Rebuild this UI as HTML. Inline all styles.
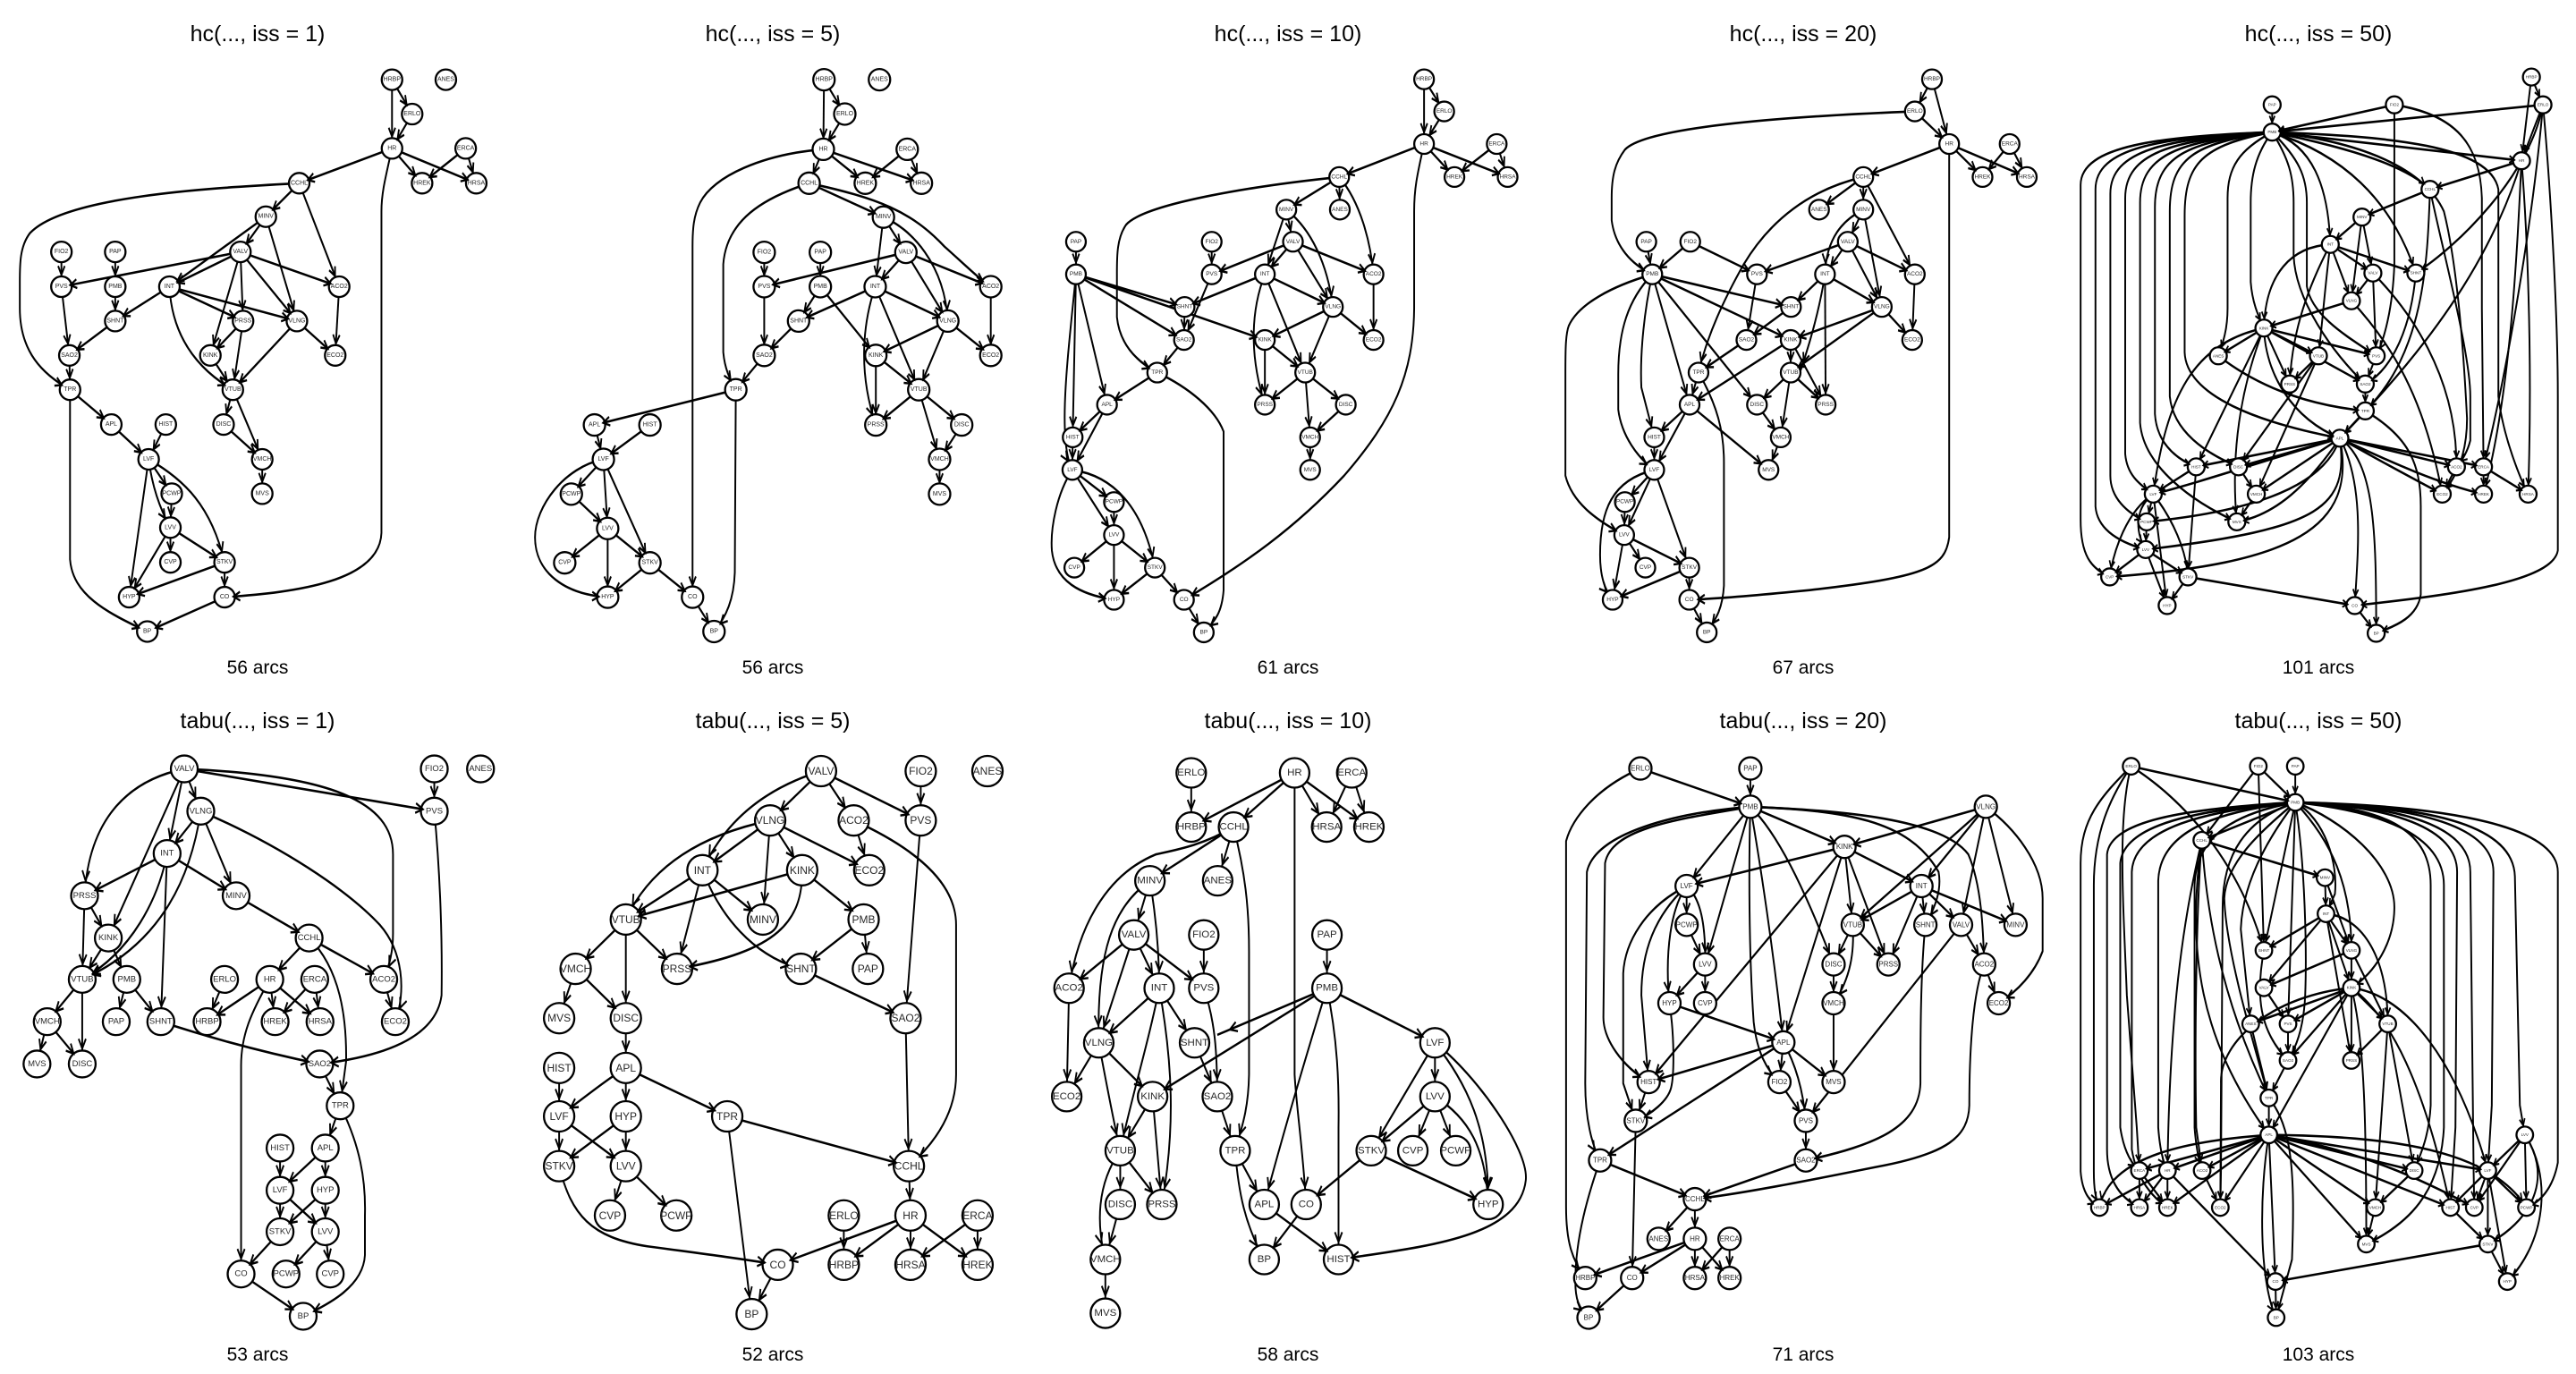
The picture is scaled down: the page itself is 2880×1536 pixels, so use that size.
<!DOCTYPE html>
<html><head><meta charset="utf-8">
<style>
html,body{margin:0;padding:0;background:#fff}
svg{display:block}
.t{font-family:"Liberation Sans",sans-serif;text-anchor:middle;fill:#000}
.ln{fill:none;stroke:#000;stroke-width:5.3;stroke-linejoin:round}
.ar{fill:none;stroke:none}
.a1{marker-end:url(#m1)}.a2{marker-end:url(#m2)}.a3{marker-end:url(#m3)}.a4{marker-end:url(#m4)}.a5{marker-end:url(#m5)}
.n circle{fill:#fff;stroke:#000;stroke-width:2.3}
.n text{font-family:"Liberation Sans",sans-serif;text-anchor:middle;dominant-baseline:central;fill:#2a2a2a}
.f7 text{font-size:7px}.f65 text{font-size:6.5px}.f45 text{font-size:4.6px}.f95 text{font-size:9.5px}.f12 text{font-size:12px}.f115 text{font-size:11.5px}.f8 text{font-size:8px}
</style></head><body>
<svg width="2880" height="1536" viewBox="0 0 2880 1536" xmlns="http://www.w3.org/2000/svg">
<defs>
<marker id="m1" markerUnits="userSpaceOnUse" orient="auto" refX="27" refY="0" markerWidth="1" markerHeight="1" overflow="visible"><path d="M-20 -10L0 0L-20 10" fill="none" stroke="#000" stroke-width="5"/></marker>
<marker id="m2" markerUnits="userSpaceOnUse" orient="auto" refX="35" refY="0" markerWidth="1" markerHeight="1" overflow="visible"><path d="M-22 -11L0 0L-22 11" fill="none" stroke="#000" stroke-width="5"/></marker>
<marker id="m3" markerUnits="userSpaceOnUse" orient="auto" refX="40" refY="0" markerWidth="1" markerHeight="1" overflow="visible"><path d="M-22 -11L0 0L-22 11" fill="none" stroke="#000" stroke-width="5"/></marker>
<marker id="m4" markerUnits="userSpaceOnUse" orient="auto" refX="29.5" refY="0" markerWidth="1" markerHeight="1" overflow="visible"><path d="M-20 -10L0 0L-20 10" fill="none" stroke="#000" stroke-width="5"/></marker>
<marker id="m5" markerUnits="userSpaceOnUse" orient="auto" refX="22" refY="0" markerWidth="1" markerHeight="1" overflow="visible"><path d="M-15 -8L0 0L-15 8" fill="none" stroke="#000" stroke-width="4.5"/></marker>

<g id="E1">
<path d="M1187 181L1187 337"/><path d="M1187 181L1248 259"/><path d="M1248 259L1187 337"/>
<path d="M1187 337L906 416"/><path d="M1187 337L1278 416"/><path d="M1187 337L1442 416"/>
<path d="M1410 337L1278 416"/><path d="M1410 337L1442 416"/>
<path d="M1187 337C1165 410 1155 440 1155 480L1155 1210C1150 1320 900 1345 680 1356"/>
<path d="M906 416C700 425 200 440 90 530C60 560 60 600 60 640L60 700C60 800 130 850 212 885"/>
<path d="M906 416L805 492"/><path d="M906 416L1027 651"/>
<path d="M805 492L728 572"/><path d="M805 492L513 651"/><path d="M805 492L899 729"/>
<path d="M728 572L513 651"/><path d="M728 572L186 651"/><path d="M728 572L736 729"/><path d="M728 572L637 807"/><path d="M728 572L899 729"/><path d="M728 572L1027 651"/>
<path d="M186 572L186 651"/><path d="M349 572L349 651"/><path d="M349 651L349 729"/>
<path d="M513 651L349 729"/><path d="M513 651L736 729"/><path d="M513 651L899 729"/>
<path d="M513 651C520 750 580 830 705 885"/>
<path d="M186 651L210 807"/><path d="M349 729L210 807"/><path d="M210 807L212 885"/>
<path d="M736 729L637 807"/><path d="M736 729L705 885"/><path d="M637 807L705 885"/>
<path d="M899 729L705 885"/><path d="M899 729L1015 807"/><path d="M1027 651L1015 807"/>
<path d="M705 885L677 964"/><path d="M705 885L794 1043"/><path d="M677 964L794 1043"/><path d="M794 1043L794 1121"/>
<path d="M212 885L337 964"/>
<path d="M212 885L212 1270C220 1350 320 1390 446 1434"/>
<path d="M337 964L450 1043"/><path d="M502 964L450 1043"/>
<path d="M450 1043L520 1121"/><path d="M450 1043C460 1100 480 1150 516 1198"/><path d="M450 1043L391 1356"/>
<path d="M450 1043C560 1090 640 1150 680 1277"/>
<path d="M520 1121L516 1198"/><path d="M516 1198L516 1277"/><path d="M516 1198L391 1356"/><path d="M516 1198L680 1277"/>
<path d="M680 1277L391 1356"/><path d="M680 1277L680 1356"/><path d="M680 1356L446 1434"/>
</g>

<g id="E2">
<path d="M558 186C400 210 270 290 256 474"/>
<path d="M558 186L328 570"/><path d="M558 186L506 378"/><path d="M558 186L608 282"/>
<path d="M558 186L1315 282"/>
<path d="M558 186C1000 200 1190 260 1190 380L1190 560C1190 600 1180 630 1162 664"/>
<path d="M608 282L506 378"/><path d="M608 282L715 474"/>
<path d="M608 282C580 420 500 580 249 664"/>
<path d="M608 282C850 360 1050 460 1150 540C1220 600 1230 690 1197 760"/>
<path d="M506 378L256 474"/><path d="M506 378L715 474"/>
<path d="M506 378C480 480 400 600 249 664"/>
<path d="M506 378L487 760"/>
<path d="M715 474L936 570"/>
<path d="M256 474L328 570"/><path d="M256 474L249 664"/>
<path d="M328 570L249 664"/><path d="M328 570L384 664"/>
<path d="M249 664L143 760"/><path d="M249 664L249 856"/>
<path d="M143 760L112 856"/><path d="M143 760L249 856"/>
<path d="M384 664L352 760"/><path d="M384 664L487 760"/>
<path d="M487 760C650 800 800 830 968 856"/>
<path d="M936 570L817 664"/><path d="M936 570L1162 664"/>
<path d="M936 570C1030 640 1050 750 1048 850L1030 951"/>
<path d="M680 664L627 760"/><path d="M817 664L627 760"/><path d="M817 664L833 760"/><path d="M817 664L969 760"/>
<path d="M817 664C760 740 730 790 730 860L730 1333"/>
<path d="M953 664L833 760"/><path d="M953 664L969 760"/>
<path d="M1162 664L1197 760"/>
<path d="M1315 186L1315 282"/>
<path d="M1315 282C1330 400 1340 550 1337 700C1320 800 1150 840 968 856"/>
<path d="M968 856L1030 951"/>
<path d="M1030 951L985 1047"/>
<path d="M1030 951C1090 1040 1108 1120 1105 1200L1105 1290C1100 1360 1000 1400 918 1429"/>
<path d="M848 1047L848 1143"/><path d="M985 1047L848 1143"/><path d="M985 1047L985 1143"/>
<path d="M848 1143L848 1237"/><path d="M848 1143L985 1237"/><path d="M985 1143L848 1237"/><path d="M985 1143L985 1237"/>
<path d="M848 1237L730 1333"/><path d="M985 1237L866 1333"/><path d="M985 1237L1000 1333"/>
<path d="M730 1333L918 1429"/>
</g>

<g id="E3">
<path d="M935 181L933 339"/><path d="M935 181L998 259"/><path d="M998 259L933 339"/>
<path d="M933 339L890 416"/><path d="M933 339L1060 416"/><path d="M933 339L1230 416"/>
<path d="M1187 339L1060 416"/><path d="M1187 339L1230 416"/>
<path d="M933 339C750 350 600 400 560 460C540 490 537 520 537 560L537 1356"/>
<path d="M890 416C750 450 640 500 630 600L630 800C635 840 650 860 668 885"/>
<path d="M890 416L1115 493"/>
<path d="M890 416C1100 450 1200 480 1300 560C1360 600 1400 630 1440 651"/>
<path d="M1115 493L1183 573"/><path d="M1115 493L1090 651"/>
<path d="M1115 493C1200 520 1300 600 1310 729"/>
<path d="M1183 573L1090 651"/><path d="M1183 573L754 651"/><path d="M1183 573L1310 729"/><path d="M1183 573L1440 651"/>
<path d="M754 573L754 651"/><path d="M924 573L924 651"/>
<path d="M924 651L858 729"/><path d="M924 651L1092 807"/>
<path d="M1090 651L858 729"/><path d="M1090 651L1310 729"/>
<path d="M1090 651C1050 740 1040 850 1092 965"/>
<path d="M1090 651L1222 885"/>
<path d="M754 651L754 807"/><path d="M858 729L754 807"/><path d="M754 807L668 885"/>
<path d="M1310 729L1092 807"/><path d="M1310 729L1222 885"/><path d="M1310 729L1440 807"/>
<path d="M1440 651L1440 807"/>
<path d="M1092 807L1222 885"/><path d="M1092 807L1092 965"/>
<path d="M1222 885L1092 965"/><path d="M1222 885L1352 965"/><path d="M1222 885L1285 1043"/>
<path d="M1352 965L1285 1043"/><path d="M1285 1043L1285 1122"/>
<path d="M668 885L240 965"/>
<path d="M668 885L665 1300C662 1360 640 1400 602 1434"/>
<path d="M240 965L267 1043"/><path d="M408 965L267 1043"/>
<path d="M267 1043L170 1122"/><path d="M267 1043L280 1200"/><path d="M267 1043L408 1278"/>
<path d="M267 1043C150 1060 60 1150 60 1220C60 1300 150 1350 280 1356"/>
<path d="M170 1122L280 1200"/>
<path d="M280 1200L150 1278"/><path d="M280 1200L280 1356"/><path d="M280 1200L408 1278"/>
<path d="M408 1278L280 1356"/><path d="M408 1278L537 1356"/><path d="M537 1356L602 1434"/>
</g>

<g id="E4">
<path d="M926 191L772 303"/><path d="M926 191L1025 303"/><path d="M926 191L1228 303"/>
<path d="M926 191C800 220 650 280 567 416"/>
<path d="M772 303L567 416"/><path d="M772 303L869 416"/><path d="M772 303L750 528"/><path d="M772 303L1072 416"/>
<path d="M772 303C600 330 420 390 335 528"/>
<path d="M567 416L335 528"/><path d="M567 416L750 528"/><path d="M567 416L490 640"/>
<path d="M567 416C620 520 720 610 865 640"/>
<path d="M869 416L335 528"/><path d="M869 416L1055 528"/>
<path d="M869 416C870 530 800 600 490 640"/>
<path d="M1025 303L1072 416"/>
<path d="M1025 303C1250 380 1335 460 1335 540L1335 880C1335 960 1280 1030 1192 1088"/>
<path d="M1228 191L1228 303"/><path d="M1228 303L1182 752"/>
<path d="M335 528L183 640"/><path d="M335 528L490 640"/><path d="M335 528L335 752"/>
<path d="M183 640L133 752"/><path d="M183 640L335 752"/>
<path d="M1055 528L865 640"/><path d="M1055 528L1068 640"/>
<path d="M865 640L1182 752"/><path d="M1182 752L1192 1088"/>
<path d="M335 752L335 865"/>
<path d="M133 865L133 975"/><path d="M335 865C280 890 230 920 133 975"/><path d="M335 865L335 975"/><path d="M335 865L642 975"/>
<path d="M133 975L133 1088"/><path d="M133 975L335 1088"/><path d="M335 975L133 1088"/><path d="M335 975L335 1088"/>
<path d="M335 1088L287 1200"/><path d="M335 1088L488 1200"/>
<path d="M133 1088C170 1200 230 1250 400 1270C600 1290 700 1300 795 1312"/>
<path d="M642 975L1192 1088"/><path d="M642 975L716 1424"/>
<path d="M1192 1088L1197 1200"/>
<path d="M995 1200L995 1312"/>
<path d="M1197 1200L795 1312"/><path d="M1197 1200L995 1312"/><path d="M1197 1200L1197 1312"/><path d="M1197 1200L1400 1312"/>
<path d="M1400 1200L1197 1312"/><path d="M1400 1200L1400 1312"/>
<path d="M795 1312L716 1424"/>
</g>

<g id="E5">
<path d="M1192 180L1192 327"/><path d="M1192 180L1253 253"/><path d="M1253 253L1192 327"/>
<path d="M1192 327L935 402"/><path d="M1192 327L1284 402"/><path d="M1192 327L1445 402"/>
<path d="M1412 327L1284 402"/><path d="M1412 327L1445 402"/>
<path d="M1192 327C1170 400 1162 430 1162 480L1162 700C1160 850 1100 950 950 1080C800 1200 650 1280 465 1362"/>
<path d="M935 402C700 420 350 460 290 510C262 540 262 580 262 620L262 720C270 780 320 820 384 846"/>
<path d="M935 402L775 476"/><path d="M935 402L937 476"/>
<path d="M935 402C1000 460 1030 550 1039 623"/>
<path d="M775 476L795 549"/><path d="M775 476L710 623"/>
<path d="M775 476C850 520 900 600 916 697"/>
<path d="M795 549L710 623"/><path d="M795 549L549 623"/><path d="M795 549L916 697"/><path d="M795 549L1039 623"/>
<path d="M138 549L138 623"/><path d="M549 549L549 623"/>
<path d="M138 623L467 697"/><path d="M138 623L465 772"/><path d="M138 623L710 772"/>
<path d="M138 623L232 919"/><path d="M138 623L128 993"/>
<path d="M138 623C115 800 80 1000 127 1067"/>
<path d="M710 623L467 697"/><path d="M710 623L916 697"/>
<path d="M710 623C670 700 660 800 710 919"/>
<path d="M710 623L832 846"/>
<path d="M549 623L465 772"/><path d="M467 697L465 772"/><path d="M465 772L384 846"/>
<path d="M916 697L710 772"/><path d="M916 697L832 846"/><path d="M916 697L1039 772"/>
<path d="M1039 623L1039 772"/>
<path d="M710 772L710 919"/><path d="M710 772L832 846"/>
<path d="M832 846L710 919"/><path d="M832 846L847 993"/><path d="M832 846L955 919"/>
<path d="M955 919L847 993"/><path d="M847 993L847 1067"/>
<path d="M384 846L232 919"/>
<path d="M384 846C480 880 560 930 585 980L585 1340C580 1390 560 1410 525 1436"/>
<path d="M232 919L128 993"/><path d="M232 919L127 1067"/><path d="M128 993L127 1067"/>
<path d="M127 1067L253 1140"/><path d="M127 1067L253 1215"/>
<path d="M127 1067C250 1080 340 1150 377 1289"/>
<path d="M127 1067C80 1120 60 1200 65 1250C75 1320 150 1350 253 1362"/>
<path d="M253 1140L253 1215"/>
<path d="M253 1215L133 1289"/><path d="M253 1215L253 1362"/><path d="M253 1215L377 1289"/>
<path d="M377 1289L253 1362"/><path d="M377 1289L465 1362"/><path d="M465 1362L525 1436"/>
</g>

<g id="E6">
<path d="M487 195L487 318"/>
<path d="M800 195L487 318"/><path d="M800 195L615 318"/><path d="M800 195L897 318"/><path d="M800 195L1025 318"/>
<path d="M800 195L800 880C805 950 825 1050 835 1175"/>
<path d="M973 195L897 318"/><path d="M973 195L1025 318"/>
<path d="M615 318L362 440"/><path d="M615 318L567 440"/>
<path d="M615 318C520 360 440 370 380 380C250 420 150 520 117 684"/>
<path d="M615 318C650 420 662 500 662 600L662 880C660 960 640 1000 620 1053"/>
<path d="M362 440L313 563"/>
<path d="M362 440C380 520 390 600 390 684"/>
<path d="M362 440C250 500 200 600 207 808"/>
<path d="M313 563L117 684"/><path d="M313 563L390 684"/><path d="M313 563L525 684"/><path d="M313 563L207 808"/>
<path d="M525 563L525 684"/><path d="M898 563L898 684"/>
<path d="M117 684L110 930"/>
<path d="M390 684L207 808"/><path d="M390 684L497 808"/>
<path d="M390 684C360 800 300 950 272 1053"/>
<path d="M390 684C430 850 440 1000 398 1175"/>
<path d="M525 684C560 760 565 830 566 930"/>
<path d="M898 684L566 790"/>
<path d="M898 684L370 930"/>
<path d="M898 684C850 800 770 1000 708 1175"/>
<path d="M898 684C930 800 935 900 933 1000L933 1300"/>
<path d="M898 684L1225 808"/>
<path d="M207 808L110 930"/><path d="M207 808L370 930"/>
<path d="M207 808C230 900 250 980 272 1053"/>
<path d="M497 808L566 930"/>
<path d="M370 930L272 1053"/><path d="M370 930L398 1175"/>
<path d="M566 930L620 1053"/>
<path d="M272 1053L272 1175"/><path d="M272 1053L398 1175"/>
<path d="M272 1053C200 1130 200 1220 227 1300"/>
<path d="M272 1175L227 1300"/><path d="M227 1300L227 1422"/>
<path d="M620 1053L708 1175"/>
<path d="M620 1053C630 1150 650 1220 708 1300"/>
<path d="M708 1175L933 1300"/>
<path d="M835 1175L708 1300"/>
<path d="M1032 1053L835 1175"/><path d="M1032 1053L1386 1175"/>
<path d="M1225 808L1225 930"/><path d="M1225 808L1032 1053"/>
<path d="M1225 808C1320 900 1390 1000 1386 1175"/>
<path d="M1225 930C1330 980 1380 1050 1386 1175"/>
<path d="M1225 808C1350 880 1510 1050 1500 1120C1480 1250 1200 1270 933 1300"/>
<path d="M1225 930L1032 1053"/><path d="M1225 930L1158 1053"/><path d="M1225 930L1288 1053"/>
</g>

<g id="E7">
<path d="M1170 180L1118 253"/><path d="M1170 180L1222 327"/><path d="M1118 253L1222 327"/>
<path d="M1118 253C700 265 300 290 240 340C210 370 200 400 200 450L200 500C210 560 260 600 323 623"/>
<path d="M1222 327L962 402"/><path d="M1222 327L1323 402"/><path d="M1222 327L1457 402"/>
<path d="M1405 327L1323 402"/><path d="M1405 327L1457 402"/>
<path d="M1222 327L1222 1220C1210 1290 1150 1310 800 1340C600 1355 500 1360 435 1362"/>
<path d="M962 402L828 476"/><path d="M962 402L962 476"/><path d="M962 402L1118 623"/>
<path d="M962 402C800 430 680 500 600 600C540 680 490 760 463 846"/>
<path d="M962 476L915 549"/>
<path d="M962 476C900 500 850 540 846 623"/>
<path d="M962 476L1018 697"/>
<path d="M915 549L846 623"/><path d="M915 549L640 623"/><path d="M915 549L1018 697"/><path d="M915 549L1118 623"/>
<path d="M305 549L323 623"/><path d="M438 549L323 623"/><path d="M438 549L640 623"/>
<path d="M323 623L743 697"/><path d="M323 623L742 772"/><path d="M323 623L640 919"/><path d="M323 623L436 919"/>
<path d="M323 623C300 700 285 800 290 880L329 993"/>
<path d="M323 623C250 680 220 750 220 850L220 930C230 990 280 1040 329 1067"/>
<path d="M323 623C200 650 100 690 70 740C60 760 60 800 60 850L60 1080C80 1140 150 1180 238 1215"/>
<path d="M640 623L608 772"/>
<path d="M846 623L743 697"/><path d="M846 623L1018 697"/><path d="M846 623L848 919"/>
<path d="M846 623C830 700 800 780 770 846"/>
<path d="M743 697L608 772"/><path d="M608 772L463 846"/>
<path d="M1018 697L742 772"/><path d="M1018 697L742 846"/><path d="M1018 697L1110 772"/>
<path d="M1118 623L1110 772"/>
<path d="M742 772L436 919"/><path d="M742 772L742 846"/><path d="M742 772L848 919"/>
<path d="M742 846L640 919"/><path d="M742 846L712 993"/><path d="M742 846L848 919"/>
<path d="M640 919L712 993"/><path d="M712 993L675 1067"/>
<path d="M463 846L436 919"/>
<path d="M463 846C520 920 540 980 540 1050L540 1330C535 1390 510 1410 488 1436"/>
<path d="M436 919L329 993"/><path d="M436 919L329 1067"/><path d="M436 919L675 1067"/>
<path d="M329 993L329 1067"/>
<path d="M329 1067L240 1140"/><path d="M329 1067L238 1215"/><path d="M329 1067L435 1289"/>
<path d="M329 1067C200 1090 165 1160 165 1260C165 1310 180 1340 203 1362"/>
<path d="M240 1140L238 1215"/>
<path d="M238 1215L203 1362"/><path d="M238 1215L302 1289"/><path d="M238 1215L435 1289"/>
<path d="M435 1289L203 1362"/><path d="M435 1289L435 1362"/><path d="M435 1362L488 1436"/>
</g>

<g id="E8">
<path d="M287 185L620 272"/>
<path d="M287 185C150 230 80 300 62 350L62 1180C62 1260 80 1300 120 1342"/>
<path d="M620 185L620 272"/>
<path d="M620 272L905 363"/><path d="M620 272L427 452"/><path d="M620 272L483 630"/>
<path d="M620 272C650 400 690 600 720 807"/>
<path d="M620 272C615 400 615 600 630 760C640 830 670 870 708 897"/>
<path d="M620 272C700 330 780 450 872 630"/>
<path d="M620 272C400 300 200 320 180 400L175 750C175 800 230 860 312 897"/>
<path d="M620 272C400 285 150 330 125 420L120 900C120 980 140 1040 165 1075"/>
<path d="M620 272C900 280 1100 300 1190 420C1200 460 1180 500 1150 540"/>
<path d="M620 272C900 280 1200 300 1280 380C1320 450 1325 550 1328 630"/>
<path d="M1333 272L905 363"/><path d="M1333 272L1138 452"/><path d="M1333 272L930 540"/><path d="M1333 272L1258 540"/><path d="M1333 272L1423 540"/>
<path d="M1333 272C1420 320 1505 400 1505 480L1505 600C1480 650 1430 690 1372 718"/>
<path d="M905 363L427 452"/><path d="M905 363L1138 452"/><path d="M905 363L930 540"/><path d="M905 363L1038 630"/><path d="M905 363L720 807"/><path d="M905 363L312 897"/>
<path d="M427 452L427 540"/>
<path d="M427 452C470 480 485 540 483 630"/>
<path d="M427 452C380 500 360 600 375 718"/>
<path d="M427 452C330 520 290 600 290 700L312 897"/>
<path d="M427 452C300 500 240 580 235 650L235 900L273 985"/>
<path d="M1138 452L930 540"/><path d="M1138 452L1150 540"/><path d="M1138 452L1258 540"/><path d="M1138 452L1423 540"/><path d="M1138 452L1038 630"/>
<path d="M427 540L483 630"/>
<path d="M930 540L872 630"/><path d="M930 540L1038 630"/>
<path d="M930 540C935 600 925 660 872 718"/>
<path d="M1258 540L1328 630"/><path d="M1258 540L788 985"/>
<path d="M1150 540C1135 650 1135 800 1135 900C1130 1000 1000 1040 788 1075"/>
<path d="M1328 630L1372 718"/>
<path d="M1328 630C1290 700 1283 850 1283 950C1280 1020 1220 1060 1000 1090C800 1120 600 1150 452 1163"/>
<path d="M483 630L375 718"/><path d="M483 630L483 718"/>
<path d="M872 630L872 718"/><path d="M872 718L872 897"/>
<path d="M375 718L720 807"/>
<path d="M375 718C390 790 390 880 380 910C370 940 320 970 273 985"/>
<path d="M720 807L312 897"/><path d="M720 807L708 897"/>
<path d="M720 807C760 860 780 920 788 985"/>
<path d="M720 807L872 897"/><path d="M720 807L165 1075"/>
<path d="M312 897L273 985"/>
<path d="M708 897L788 985"/><path d="M788 985L788 1075"/>
<path d="M273 985L262 1342"/>
<path d="M165 1075L452 1163"/>
<path d="M165 1075C130 1150 90 1250 90 1350C90 1390 100 1410 130 1432"/>
<path d="M788 1075L452 1163"/>
<path d="M452 1163L342 1253"/><path d="M452 1163L452 1253"/>
<path d="M452 1253L120 1342"/><path d="M452 1253L262 1342"/><path d="M452 1253L452 1342"/><path d="M452 1253L557 1342"/>
<path d="M557 1253L452 1342"/><path d="M557 1253L557 1342"/>
<path d="M262 1342L130 1432"/>
</g>

<g id="E9">
<path d="M640 300C300 310 60 330 60 420L60 1180C60 1260 90 1290 148 1310"/>
<path d="M640 300C300 312 105 335 105 430L105 1150C110 1200 170 1230 257 1248"/>
<path d="M640 300C320 315 150 340 150 440L150 1080C150 1130 200 1165 260 1185"/>
<path d="M640 300C340 318 195 345 195 450L195 1030C200 1080 240 1100 280 1122"/>
<path d="M640 300C360 320 240 350 240 460L240 960C250 1060 400 1140 533 1185"/>
<path d="M640 300C380 322 285 355 285 470L285 940C290 1000 340 1040 410 1060"/>
<path d="M640 300C400 325 330 360 330 480L330 900C340 980 440 1030 538 1060"/>
<path d="M640 300C430 330 375 370 375 490L375 800C380 900 600 960 845 995"/>
<path d="M640 300C540 340 505 380 505 450L505 700C505 750 490 780 477 808"/>
<path d="M640 300C590 350 575 400 575 460L575 640C580 690 600 720 615 745"/>
<path d="M640 300C690 360 705 400 705 460L705 580C710 680 820 800 922 872"/>
<path d="M640 300C720 360 745 400 745 460L745 650C760 720 880 770 955 808"/>
<path d="M640 300C760 330 810 420 816 555"/>
<path d="M640 300C850 350 1000 450 1075 620"/>
<path d="M640 300C900 340 1050 380 1118 430"/>
<path d="M640 300L1395 365"/>
<path d="M640 300C900 320 1100 380 1160 480C1200 600 1220 800 1230 950C1230 1030 1200 1080 1155 1122"/>
<path d="M640 300C1000 310 1300 330 1325 430L1325 900C1340 1000 1400 1100 1415 1122"/>
<path d="M1010 238L640 300"/><path d="M640 238L640 300"/><path d="M1460 238L640 300"/>
<path d="M1010 238L1010 600C1005 700 980 770 955 808"/>
<path d="M1010 238C1200 260 1270 330 1275 450L1275 700C1278 850 1280 1000 1280 1060"/>
<path d="M1425 175L1460 238"/><path d="M1425 175L1395 365"/><path d="M1460 238L1395 365"/>
<path d="M1460 238C1420 400 1200 560 1075 620"/>
<path d="M1460 238C1480 400 1505 700 1505 900L1505 1250C1490 1320 1200 1350 890 1375"/>
<path d="M1460 238C1430 500 1350 850 1280 1060"/>
<path d="M1395 365L1118 430"/>
<path d="M1395 365C1410 500 1430 800 1415 1122"/>
<path d="M1395 365C1380 600 1360 900 1280 1122"/>
<path d="M1395 365C1300 600 1100 800 845 995"/>
<path d="M1118 430L912 493"/>
<path d="M1118 430C1150 550 1240 800 1240 900L1240 1000C1230 1030 1210 1050 1198 1060"/>
<path d="M1118 430C1110 600 1100 800 922 933"/>
<path d="M912 493L816 555"/><path d="M912 493L880 683"/><path d="M912 493L945 620"/>
<path d="M816 555C700 560 620 620 615 745"/>
<path d="M816 555L945 620"/><path d="M816 555L1075 620"/><path d="M816 555L880 683"/>
<path d="M816 555C750 650 700 750 693 872"/>
<path d="M816 555C800 650 790 750 780 808"/>
<path d="M945 620L880 683"/><path d="M945 620L955 808"/>
<path d="M945 620C1050 700 1200 850 1198 1060"/>
<path d="M880 683L615 745"/>
<path d="M880 683C1000 780 1100 900 1155 1122"/>
<path d="M1075 620C1060 750 1000 840 922 872"/>
<path d="M615 745L477 808"/><path d="M615 745L780 808"/><path d="M615 745L955 808"/><path d="M615 745L922 872"/><path d="M615 745L693 872"/><path d="M615 745L410 1060"/>
<path d="M615 745C400 780 320 900 280 1122"/>
<path d="M615 745C560 850 510 1000 533 1185"/>
<path d="M615 745C620 850 700 950 845 995"/>
<path d="M780 808L693 872"/><path d="M780 808L538 1060"/><path d="M780 808L592 1122"/>
<path d="M955 808L922 872"/><path d="M922 872L922 933"/>
<path d="M477 808C600 880 750 920 922 933"/>
<path d="M922 933L845 995"/>
<path d="M922 933C1050 990 1090 1050 1090 1150L1090 1350C1080 1400 1020 1420 955 1438"/>
<path d="M845 995L410 1060"/><path d="M845 995L538 1060"/>
<path d="M845 995C600 1050 400 1100 280 1122"/>
<path d="M845 995L592 1122"/>
<path d="M845 995C750 1100 650 1170 533 1185"/>
<path d="M845 995C800 1100 600 1160 260 1185"/>
<path d="M845 995C870 1150 800 1200 257 1248"/>
<path d="M845 995C900 1200 700 1280 148 1310"/>
<path d="M845 995L1198 1060"/><path d="M845 995L1280 1060"/>
<path d="M845 995C950 1040 1050 1080 1155 1122"/>
<path d="M845 995C1000 1050 1150 1100 1280 1122"/>
<path d="M845 995C920 1100 900 1250 890 1375"/>
<path d="M845 995C950 1050 955 1200 955 1438"/>
<path d="M410 1060L280 1122"/><path d="M410 1060L385 1310"/>
<path d="M538 1060L592 1122"/><path d="M592 1122L533 1185"/>
<path d="M1198 1060L1155 1122"/>
<path d="M1280 1060L1280 1122"/><path d="M1280 1060L1415 1122"/>
<path d="M280 1122L260 1185"/>
<path d="M280 1122C230 1150 220 1200 257 1248"/>
<path d="M280 1122C200 1160 160 1250 148 1310"/>
<path d="M280 1122L322 1375"/>
<path d="M280 1122C340 1180 380 1250 385 1310"/>
<path d="M260 1185L257 1248"/>
<path d="M257 1248L148 1310"/><path d="M257 1248L322 1375"/><path d="M257 1248L385 1310"/>
<path d="M385 1310L322 1375"/><path d="M385 1310L890 1375"/>
<path d="M890 1375L955 1438"/>
</g>

<g id="E10">
<path d="M213 180L710 262"/>
<path d="M213 180C120 250 60 300 60 400L60 1100C65 1150 90 1170 117 1182"/>
<path d="M213 180C150 250 100 330 100 450L100 1100C100 1140 105 1160 117 1182"/>
<path d="M213 180C170 300 190 500 200 700L230 1000L238 1098"/>
<path d="M213 180C400 270 550 420 615 598"/>
<path d="M598 180L710 262"/><path d="M598 180L615 598"/><path d="M598 180L427 348"/>
<path d="M710 180L710 262"/>
<path d="M710 262L427 348"/>
<path d="M710 262C400 275 150 300 140 380L140 1050C140 1120 180 1160 238 1182"/>
<path d="M710 262C420 278 190 310 180 400L180 1000C190 1050 210 1080 238 1098"/>
<path d="M710 262C440 280 220 320 215 420L215 1050C230 1120 280 1160 323 1182"/>
<path d="M710 262C460 283 300 330 295 440L295 1000C300 1050 310 1080 323 1098"/>
<path d="M710 262C500 290 410 350 405 450L405 1000C410 1050 420 1080 428 1098"/>
<path d="M710 262C560 300 490 380 490 500L485 1100L483 1182"/>
<path d="M710 262C600 330 500 400 495 480C500 600 580 800 630 933"/>
<path d="M710 262C620 350 550 450 545 550L575 765"/>
<path d="M710 262L615 598"/><path d="M710 262L688 765"/>
<path d="M710 262C740 400 745 600 740 700C735 780 710 820 688 848"/>
<path d="M710 262C820 350 880 450 880 598"/>
<path d="M710 262C800 300 840 400 830 470L803 515"/>
<path d="M710 262C850 300 1010 400 1010 500C1010 580 950 650 880 683"/>
<path d="M710 262C1000 275 1120 330 1120 450L1120 950C1115 1020 1090 1060 1070 1098"/>
<path d="M710 262C950 280 1160 330 1160 450L1160 1000C1150 1150 1050 1220 925 1265"/>
<path d="M710 262C1000 270 1200 320 1200 420L1195 1000L1180 1182"/>
<path d="M710 262C1050 270 1240 320 1240 420L1250 1100L1252 1182"/>
<path d="M710 262C1100 270 1310 320 1310 420L1305 950L1293 1098"/>
<path d="M710 262C1150 270 1370 320 1375 430L1390 950L1405 1017"/>
<path d="M710 262C1200 270 1505 320 1505 420L1505 1080C1490 1140 1450 1170 1410 1182"/>
<path d="M427 348L800 433"/>
<path d="M427 348C380 500 330 700 323 1098"/>
<path d="M427 348C410 500 405 800 410 1000L428 1098"/>
<path d="M427 348C440 500 480 700 630 933"/>
<path d="M427 348C380 600 420 800 630 1017"/>
<path d="M800 433L803 515"/><path d="M800 433L880 598"/>
<path d="M803 515L615 598"/><path d="M803 515L880 598"/><path d="M803 515L880 683"/><path d="M803 515L615 683"/>
<path d="M803 515C900 520 990 600 990 765"/>
<path d="M803 515L880 848"/>
<path d="M880 598L880 683"/><path d="M880 598L615 683"/><path d="M880 598L990 765"/>
<path d="M615 598C590 700 600 780 688 848"/>
<path d="M615 683L688 765"/>
<path d="M880 683L880 848"/><path d="M880 683L688 765"/><path d="M880 683L990 765"/><path d="M880 683L688 848"/><path d="M880 683L575 765"/><path d="M880 683L630 1017"/>
<path d="M880 683C650 700 480 800 485 900L483 1182"/>
<path d="M880 683C1050 700 1200 850 1293 1098"/>
<path d="M880 683C1000 750 1100 900 1180 1182"/>
<path d="M880 683C920 800 925 1000 925 1265"/>
<path d="M990 765L880 848"/><path d="M990 765L952 1182"/><path d="M990 765L1070 1098"/>
<path d="M575 765L630 933"/><path d="M688 765L688 848"/><path d="M688 848L630 933"/>
<path d="M630 933L630 1017"/>
<path d="M630 933C700 1000 710 1100 700 1300L652 1432"/>
<path d="M630 1017L238 1098"/><path d="M630 1017L323 1098"/><path d="M630 1017L428 1098"/><path d="M630 1017L483 1182"/>
<path d="M630 1017C400 1030 150 1060 117 1182"/>
<path d="M630 1017L323 1182"/>
<path d="M630 1017L1070 1098"/><path d="M630 1017L1293 1098"/><path d="M630 1017L1180 1182"/>
<path d="M630 1017C900 1050 1100 1120 1252 1182"/>
<path d="M630 1017C1000 1020 1300 1050 1410 1182"/>
<path d="M630 1017L952 1182"/><path d="M630 1017L925 1265"/><path d="M630 1017L650 1350"/>
<path d="M630 1017C600 1150 600 1350 652 1432"/>
<path d="M238 1098L238 1182"/><path d="M238 1098L323 1182"/>
<path d="M323 1098L117 1182"/><path d="M323 1098L238 1182"/><path d="M323 1098L323 1182"/><path d="M323 1098L650 1350"/>
<path d="M428 1098L483 1182"/>
<path d="M1070 1098L952 1182"/><path d="M952 1182L925 1265"/>
<path d="M1293 1098L1180 1182"/><path d="M1293 1098L1252 1182"/><path d="M1293 1098L1410 1182"/><path d="M1293 1098L1293 1265"/><path d="M1293 1098L1352 1350"/>
<path d="M1405 1017L1293 1098"/><path d="M1405 1017L1252 1182"/><path d="M1405 1017L1410 1182"/>
<path d="M1405 1017C1480 1100 1450 1200 1293 1265"/>
<path d="M1405 1017C1480 1100 1480 1250 1352 1350"/>
<path d="M1180 1182L1293 1265"/>
<path d="M1293 1265L650 1350"/><path d="M1293 1265L1352 1350"/>
<path d="M650 1350L652 1432"/>
</g>
</defs>

<!-- Titles and arc counts -->
<g class="t" font-size="25">
<text x="288" y="46">hc(..., iss = 1)</text>
<text x="864" y="46">hc(..., iss = 5)</text>
<text x="1440" y="46">hc(..., iss = 10)</text>
<text x="2016" y="46">hc(..., iss = 20)</text>
<text x="2592" y="46">hc(..., iss = 50)</text>
<text x="288" y="814">tabu(..., iss = 1)</text>
<text x="864" y="814">tabu(..., iss = 5)</text>
<text x="1440" y="814">tabu(..., iss = 10)</text>
<text x="2016" y="814">tabu(..., iss = 20)</text>
<text x="2592" y="814">tabu(..., iss = 50)</text>
</g>
<g class="t" font-size="21">
<text x="288" y="753">56 arcs</text>
<text x="864" y="753">56 arcs</text>
<text x="1440" y="753">61 arcs</text>
<text x="2016" y="753">67 arcs</text>
<text x="2592" y="753">101 arcs</text>
<text x="288" y="1521">53 arcs</text>
<text x="864" y="1521">52 arcs</text>
<text x="1440" y="1521">58 arcs</text>
<text x="2016" y="1521">71 arcs</text>
<text x="2592" y="1521">103 arcs</text>
</g>

<!-- Panel 1: hc iss=1 -->
<g transform="translate(0 0) scale(0.36923 0.49231)">
<use href="#E1" class="ln"/>
<g class="n f7">
<g transform="translate(1187 181) scale(2.708 2.031)"><circle r="11.5"/><text>HRBP</text></g>
<g transform="translate(1350 181) scale(2.708 2.031)"><circle r="11.5"/><text>ANES</text></g>
<g transform="translate(1248 259) scale(2.708 2.031)"><circle r="11.5"/><text>ERLO</text></g>
<g transform="translate(1187 337) scale(2.708 2.031)"><circle r="11.5"/><text>HR</text></g>
<g transform="translate(1410 337) scale(2.708 2.031)"><circle r="11.5"/><text>ERCA</text></g>
<g transform="translate(1278 416) scale(2.708 2.031)"><circle r="11.5"/><text>HREK</text></g>
<g transform="translate(1442 416) scale(2.708 2.031)"><circle r="11.5"/><text>HRSA</text></g>
<g transform="translate(906 416) scale(2.708 2.031)"><circle r="11.5"/><text>CCHL</text></g>
<g transform="translate(805 492) scale(2.708 2.031)"><circle r="11.5"/><text>MINV</text></g>
<g transform="translate(186 572) scale(2.708 2.031)"><circle r="11.5"/><text>FIO2</text></g>
<g transform="translate(349 572) scale(2.708 2.031)"><circle r="11.5"/><text>PAP</text></g>
<g transform="translate(728 572) scale(2.708 2.031)"><circle r="11.5"/><text>VALV</text></g>
<g transform="translate(186 651) scale(2.708 2.031)"><circle r="11.5"/><text>PVS</text></g>
<g transform="translate(349 651) scale(2.708 2.031)"><circle r="11.5"/><text>PMB</text></g>
<g transform="translate(513 651) scale(2.708 2.031)"><circle r="11.5"/><text>INT</text></g>
<g transform="translate(1027 651) scale(2.708 2.031)"><circle r="11.5"/><text>ACO2</text></g>
<g transform="translate(349 729) scale(2.708 2.031)"><circle r="11.5"/><text>SHNT</text></g>
<g transform="translate(736 729) scale(2.708 2.031)"><circle r="11.5"/><text>PRSS</text></g>
<g transform="translate(899 729) scale(2.708 2.031)"><circle r="11.5"/><text>VLNG</text></g>
<g transform="translate(210 807) scale(2.708 2.031)"><circle r="11.5"/><text>SAO2</text></g>
<g transform="translate(637 807) scale(2.708 2.031)"><circle r="11.5"/><text>KINK</text></g>
<g transform="translate(1015 807) scale(2.708 2.031)"><circle r="11.5"/><text>ECO2</text></g>
<g transform="translate(212 885) scale(2.708 2.031)"><circle r="11.5"/><text>TPR</text></g>
<g transform="translate(705 885) scale(2.708 2.031)"><circle r="11.5"/><text>VTUB</text></g>
<g transform="translate(337 964) scale(2.708 2.031)"><circle r="11.5"/><text>APL</text></g>
<g transform="translate(502 964) scale(2.708 2.031)"><circle r="11.5"/><text>HIST</text></g>
<g transform="translate(677 964) scale(2.708 2.031)"><circle r="11.5"/><text>DISC</text></g>
<g transform="translate(450 1043) scale(2.708 2.031)"><circle r="11.5"/><text>LVF</text></g>
<g transform="translate(794 1043) scale(2.708 2.031)"><circle r="11.5"/><text>VMCH</text></g>
<g transform="translate(520 1121) scale(2.708 2.031)"><circle r="11.5"/><text>PCWP</text></g>
<g transform="translate(794 1121) scale(2.708 2.031)"><circle r="11.5"/><text>MVS</text></g>
<g transform="translate(516 1198) scale(2.708 2.031)"><circle r="11.5"/><text>LVV</text></g>
<g transform="translate(516 1277) scale(2.708 2.031)"><circle r="11.5"/><text>CVP</text></g>
<g transform="translate(680 1277) scale(2.708 2.031)"><circle r="11.5"/><text>STKV</text></g>
<g transform="translate(391 1356) scale(2.708 2.031)"><circle r="11.5"/><text>HYP</text></g>
<g transform="translate(680 1356) scale(2.708 2.031)"><circle r="11.5"/><text>CO</text></g>
<g transform="translate(446 1434) scale(2.708 2.031)"><circle r="11.5"/><text>BP</text></g>
</g>
<use href="#E1" class="ar a1"/>
</g>

<!-- Panel 2: tabu iss=1 -->
<g transform="translate(0 768) scale(0.36923 0.49231)">
<use href="#E2" class="ln"/>
<g class="n f95">
<g transform="translate(558 186) scale(2.708 2.031)"><circle r="15"/><text>VALV</text></g>
<g transform="translate(1315 186) scale(2.708 2.031)"><circle r="15"/><text>FIO2</text></g>
<g transform="translate(1455 186) scale(2.708 2.031)"><circle r="15"/><text>ANES</text></g>
<g transform="translate(608 282) scale(2.708 2.031)"><circle r="15"/><text>VLNG</text></g>
<g transform="translate(1315 282) scale(2.708 2.031)"><circle r="15"/><text>PVS</text></g>
<g transform="translate(506 378) scale(2.708 2.031)"><circle r="15"/><text>INT</text></g>
<g transform="translate(256 474) scale(2.708 2.031)"><circle r="15"/><text>PRSS</text></g>
<g transform="translate(715 474) scale(2.708 2.031)"><circle r="15"/><text>MINV</text></g>
<g transform="translate(328 570) scale(2.708 2.031)"><circle r="15"/><text>KINK</text></g>
<g transform="translate(936 570) scale(2.708 2.031)"><circle r="15"/><text>CCHL</text></g>
<g transform="translate(249 664) scale(2.708 2.031)"><circle r="15"/><text>VTUB</text></g>
<g transform="translate(384 664) scale(2.708 2.031)"><circle r="15"/><text>PMB</text></g>
<g transform="translate(680 664) scale(2.708 2.031)"><circle r="15"/><text>ERLO</text></g>
<g transform="translate(817 664) scale(2.708 2.031)"><circle r="15"/><text>HR</text></g>
<g transform="translate(953 664) scale(2.708 2.031)"><circle r="15"/><text>ERCA</text></g>
<g transform="translate(1162 664) scale(2.708 2.031)"><circle r="15"/><text>ACO2</text></g>
<g transform="translate(143 760) scale(2.708 2.031)"><circle r="15"/><text>VMCH</text></g>
<g transform="translate(352 760) scale(2.708 2.031)"><circle r="15"/><text>PAP</text></g>
<g transform="translate(487 760) scale(2.708 2.031)"><circle r="15"/><text>SHNT</text></g>
<g transform="translate(627 760) scale(2.708 2.031)"><circle r="15"/><text>HRBP</text></g>
<g transform="translate(833 760) scale(2.708 2.031)"><circle r="15"/><text>HREK</text></g>
<g transform="translate(969 760) scale(2.708 2.031)"><circle r="15"/><text>HRSA</text></g>
<g transform="translate(1197 760) scale(2.708 2.031)"><circle r="15"/><text>ECO2</text></g>
<g transform="translate(112 856) scale(2.708 2.031)"><circle r="15"/><text>MVS</text></g>
<g transform="translate(249 856) scale(2.708 2.031)"><circle r="15"/><text>DISC</text></g>
<g transform="translate(968 856) scale(2.708 2.031)"><circle r="15"/><text>SAO2</text></g>
<g transform="translate(1030 951) scale(2.708 2.031)"><circle r="15"/><text>TPR</text></g>
<g transform="translate(848 1047) scale(2.708 2.031)"><circle r="15"/><text>HIST</text></g>
<g transform="translate(985 1047) scale(2.708 2.031)"><circle r="15"/><text>APL</text></g>
<g transform="translate(848 1143) scale(2.708 2.031)"><circle r="15"/><text>LVF</text></g>
<g transform="translate(985 1143) scale(2.708 2.031)"><circle r="15"/><text>HYP</text></g>
<g transform="translate(848 1237) scale(2.708 2.031)"><circle r="15"/><text>STKV</text></g>
<g transform="translate(985 1237) scale(2.708 2.031)"><circle r="15"/><text>LVV</text></g>
<g transform="translate(730 1333) scale(2.708 2.031)"><circle r="15"/><text>CO</text></g>
<g transform="translate(866 1333) scale(2.708 2.031)"><circle r="15"/><text>PCWP</text></g>
<g transform="translate(1000 1333) scale(2.708 2.031)"><circle r="15"/><text>CVP</text></g>
<g transform="translate(918 1429) scale(2.708 2.031)"><circle r="15"/><text>BP</text></g>
</g>
<use href="#E2" class="ar a2"/>
</g>

<!-- Panel 3: hc iss=5 -->
<g transform="translate(576 0) scale(0.36923 0.49231)">
<use href="#E3" class="ln"/>
<g class="n f7">
<g transform="translate(935 181) scale(2.708 2.031)"><circle r="12"/><text>HRBP</text></g>
<g transform="translate(1103 181) scale(2.708 2.031)"><circle r="12"/><text>ANES</text></g>
<g transform="translate(998 259) scale(2.708 2.031)"><circle r="12"/><text>ERLO</text></g>
<g transform="translate(933 339) scale(2.708 2.031)"><circle r="12"/><text>HR</text></g>
<g transform="translate(1187 339) scale(2.708 2.031)"><circle r="12"/><text>ERCA</text></g>
<g transform="translate(890 416) scale(2.708 2.031)"><circle r="12"/><text>CCHL</text></g>
<g transform="translate(1060 416) scale(2.708 2.031)"><circle r="12"/><text>HREK</text></g>
<g transform="translate(1230 416) scale(2.708 2.031)"><circle r="12"/><text>HRSA</text></g>
<g transform="translate(1115 493) scale(2.708 2.031)"><circle r="12"/><text>MINV</text></g>
<g transform="translate(754 573) scale(2.708 2.031)"><circle r="12"/><text>FIO2</text></g>
<g transform="translate(924 573) scale(2.708 2.031)"><circle r="12"/><text>PAP</text></g>
<g transform="translate(1183 573) scale(2.708 2.031)"><circle r="12"/><text>VALV</text></g>
<g transform="translate(754 651) scale(2.708 2.031)"><circle r="12"/><text>PVS</text></g>
<g transform="translate(924 651) scale(2.708 2.031)"><circle r="12"/><text>PMB</text></g>
<g transform="translate(1090 651) scale(2.708 2.031)"><circle r="12"/><text>INT</text></g>
<g transform="translate(1440 651) scale(2.708 2.031)"><circle r="12"/><text>ACO2</text></g>
<g transform="translate(858 729) scale(2.708 2.031)"><circle r="12"/><text>SHNT</text></g>
<g transform="translate(1310 729) scale(2.708 2.031)"><circle r="12"/><text>VLNG</text></g>
<g transform="translate(754 807) scale(2.708 2.031)"><circle r="12"/><text>SAO2</text></g>
<g transform="translate(1092 807) scale(2.708 2.031)"><circle r="12"/><text>KINK</text></g>
<g transform="translate(1440 807) scale(2.708 2.031)"><circle r="12"/><text>ECO2</text></g>
<g transform="translate(668 885) scale(2.708 2.031)"><circle r="12"/><text>TPR</text></g>
<g transform="translate(1222 885) scale(2.708 2.031)"><circle r="12"/><text>VTUB</text></g>
<g transform="translate(240 965) scale(2.708 2.031)"><circle r="12"/><text>APL</text></g>
<g transform="translate(408 965) scale(2.708 2.031)"><circle r="12"/><text>HIST</text></g>
<g transform="translate(1092 965) scale(2.708 2.031)"><circle r="12"/><text>PRSS</text></g>
<g transform="translate(1352 965) scale(2.708 2.031)"><circle r="12"/><text>DISC</text></g>
<g transform="translate(267 1043) scale(2.708 2.031)"><circle r="12"/><text>LVF</text></g>
<g transform="translate(1285 1043) scale(2.708 2.031)"><circle r="12"/><text>VMCH</text></g>
<g transform="translate(170 1122) scale(2.708 2.031)"><circle r="12"/><text>PCWP</text></g>
<g transform="translate(1285 1122) scale(2.708 2.031)"><circle r="12"/><text>MVS</text></g>
<g transform="translate(280 1200) scale(2.708 2.031)"><circle r="12"/><text>LVV</text></g>
<g transform="translate(150 1278) scale(2.708 2.031)"><circle r="12"/><text>CVP</text></g>
<g transform="translate(408 1278) scale(2.708 2.031)"><circle r="12"/><text>STKV</text></g>
<g transform="translate(280 1356) scale(2.708 2.031)"><circle r="12"/><text>HYP</text></g>
<g transform="translate(537 1356) scale(2.708 2.031)"><circle r="12"/><text>CO</text></g>
<g transform="translate(602 1434) scale(2.708 2.031)"><circle r="12"/><text>BP</text></g>
</g>
<use href="#E3" class="ar a1"/>
</g>

<!-- Panel 4: tabu iss=5 -->
<g transform="translate(576 768) scale(0.36923 0.49231)">
<use href="#E4" class="ln"/>
<g class="n f12">
<g transform="translate(926 191) scale(2.708 2.031)"><circle r="17"/><text>VALV</text></g>
<g transform="translate(1228 191) scale(2.708 2.031)"><circle r="17"/><text>FIO2</text></g>
<g transform="translate(1430 191) scale(2.708 2.031)"><circle r="17"/><text>ANES</text></g>
<g transform="translate(772 303) scale(2.708 2.031)"><circle r="17"/><text>VLNG</text></g>
<g transform="translate(1025 303) scale(2.708 2.031)"><circle r="17"/><text>ACO2</text></g>
<g transform="translate(1228 303) scale(2.708 2.031)"><circle r="17"/><text>PVS</text></g>
<g transform="translate(567 416) scale(2.708 2.031)"><circle r="17"/><text>INT</text></g>
<g transform="translate(869 416) scale(2.708 2.031)"><circle r="17"/><text>KINK</text></g>
<g transform="translate(1072 416) scale(2.708 2.031)"><circle r="17"/><text>ECO2</text></g>
<g transform="translate(335 528) scale(2.708 2.031)"><circle r="17"/><text>VTUB</text></g>
<g transform="translate(750 528) scale(2.708 2.031)"><circle r="17"/><text>MINV</text></g>
<g transform="translate(1055 528) scale(2.708 2.031)"><circle r="17"/><text>PMB</text></g>
<g transform="translate(183 640) scale(2.708 2.031)"><circle r="17"/><text>VMCH</text></g>
<g transform="translate(490 640) scale(2.708 2.031)"><circle r="17"/><text>PRSS</text></g>
<g transform="translate(865 640) scale(2.708 2.031)"><circle r="17"/><text>SHNT</text></g>
<g transform="translate(1068 640) scale(2.708 2.031)"><circle r="17"/><text>PAP</text></g>
<g transform="translate(133 752) scale(2.708 2.031)"><circle r="17"/><text>MVS</text></g>
<g transform="translate(335 752) scale(2.708 2.031)"><circle r="17"/><text>DISC</text></g>
<g transform="translate(1182 752) scale(2.708 2.031)"><circle r="17"/><text>SAO2</text></g>
<g transform="translate(133 865) scale(2.708 2.031)"><circle r="17"/><text>HIST</text></g>
<g transform="translate(335 865) scale(2.708 2.031)"><circle r="17"/><text>APL</text></g>
<g transform="translate(133 975) scale(2.708 2.031)"><circle r="17"/><text>LVF</text></g>
<g transform="translate(335 975) scale(2.708 2.031)"><circle r="17"/><text>HYP</text></g>
<g transform="translate(642 975) scale(2.708 2.031)"><circle r="17"/><text>TPR</text></g>
<g transform="translate(133 1088) scale(2.708 2.031)"><circle r="17"/><text>STKV</text></g>
<g transform="translate(335 1088) scale(2.708 2.031)"><circle r="17"/><text>LVV</text></g>
<g transform="translate(1192 1088) scale(2.708 2.031)"><circle r="17"/><text>CCHL</text></g>
<g transform="translate(287 1200) scale(2.708 2.031)"><circle r="17"/><text>CVP</text></g>
<g transform="translate(488 1200) scale(2.708 2.031)"><circle r="17"/><text>PCWP</text></g>
<g transform="translate(995 1200) scale(2.708 2.031)"><circle r="17"/><text>ERLO</text></g>
<g transform="translate(1197 1200) scale(2.708 2.031)"><circle r="17"/><text>HR</text></g>
<g transform="translate(1400 1200) scale(2.708 2.031)"><circle r="17"/><text>ERCA</text></g>
<g transform="translate(795 1312) scale(2.708 2.031)"><circle r="17"/><text>CO</text></g>
<g transform="translate(995 1312) scale(2.708 2.031)"><circle r="17"/><text>HRBP</text></g>
<g transform="translate(1197 1312) scale(2.708 2.031)"><circle r="17"/><text>HRSA</text></g>
<g transform="translate(1400 1312) scale(2.708 2.031)"><circle r="17"/><text>HREK</text></g>
<g transform="translate(716 1424) scale(2.708 2.031)"><circle r="17"/><text>BP</text></g>
</g>
<use href="#E4" class="ar a3"/>
</g>

<!-- Panel 5: hc iss=10 -->
<g transform="translate(1152 0) scale(0.36923 0.49231)">
<use href="#E5" class="ln"/>
<g class="n f65">
<g transform="translate(1192 180) scale(2.708 2.031)"><circle r="11"/><text>HRBP</text></g>
<g transform="translate(1253 253) scale(2.708 2.031)"><circle r="11"/><text>ERLO</text></g>
<g transform="translate(1192 327) scale(2.708 2.031)"><circle r="11"/><text>HR</text></g>
<g transform="translate(1412 327) scale(2.708 2.031)"><circle r="11"/><text>ERCA</text></g>
<g transform="translate(935 402) scale(2.708 2.031)"><circle r="11"/><text>CCHL</text></g>
<g transform="translate(1284 402) scale(2.708 2.031)"><circle r="11"/><text>HREK</text></g>
<g transform="translate(1445 402) scale(2.708 2.031)"><circle r="11"/><text>HRSA</text></g>
<g transform="translate(775 476) scale(2.708 2.031)"><circle r="11"/><text>MINV</text></g>
<g transform="translate(937 476) scale(2.708 2.031)"><circle r="11"/><text>ANES</text></g>
<g transform="translate(138 549) scale(2.708 2.031)"><circle r="11"/><text>PAP</text></g>
<g transform="translate(549 549) scale(2.708 2.031)"><circle r="11"/><text>FIO2</text></g>
<g transform="translate(795 549) scale(2.708 2.031)"><circle r="11"/><text>VALV</text></g>
<g transform="translate(138 623) scale(2.708 2.031)"><circle r="11"/><text>PMB</text></g>
<g transform="translate(549 623) scale(2.708 2.031)"><circle r="11"/><text>PVS</text></g>
<g transform="translate(710 623) scale(2.708 2.031)"><circle r="11"/><text>INT</text></g>
<g transform="translate(1039 623) scale(2.708 2.031)"><circle r="11"/><text>ACO2</text></g>
<g transform="translate(467 697) scale(2.708 2.031)"><circle r="11"/><text>SHNT</text></g>
<g transform="translate(916 697) scale(2.708 2.031)"><circle r="11"/><text>VLNG</text></g>
<g transform="translate(465 772) scale(2.708 2.031)"><circle r="11"/><text>SAO2</text></g>
<g transform="translate(710 772) scale(2.708 2.031)"><circle r="11"/><text>KINK</text></g>
<g transform="translate(1039 772) scale(2.708 2.031)"><circle r="11"/><text>ECO2</text></g>
<g transform="translate(384 846) scale(2.708 2.031)"><circle r="11"/><text>TPR</text></g>
<g transform="translate(832 846) scale(2.708 2.031)"><circle r="11"/><text>VTUB</text></g>
<g transform="translate(232 919) scale(2.708 2.031)"><circle r="11"/><text>APL</text></g>
<g transform="translate(710 919) scale(2.708 2.031)"><circle r="11"/><text>PRSS</text></g>
<g transform="translate(955 919) scale(2.708 2.031)"><circle r="11"/><text>DISC</text></g>
<g transform="translate(128 993) scale(2.708 2.031)"><circle r="11"/><text>HIST</text></g>
<g transform="translate(847 993) scale(2.708 2.031)"><circle r="11"/><text>VMCH</text></g>
<g transform="translate(127 1067) scale(2.708 2.031)"><circle r="11"/><text>LVF</text></g>
<g transform="translate(847 1067) scale(2.708 2.031)"><circle r="11"/><text>MVS</text></g>
<g transform="translate(253 1140) scale(2.708 2.031)"><circle r="11"/><text>PCWP</text></g>
<g transform="translate(253 1215) scale(2.708 2.031)"><circle r="11"/><text>LVV</text></g>
<g transform="translate(133 1289) scale(2.708 2.031)"><circle r="11"/><text>CVP</text></g>
<g transform="translate(377 1289) scale(2.708 2.031)"><circle r="11"/><text>STKV</text></g>
<g transform="translate(253 1362) scale(2.708 2.031)"><circle r="11"/><text>HYP</text></g>
<g transform="translate(465 1362) scale(2.708 2.031)"><circle r="11"/><text>CO</text></g>
<g transform="translate(525 1436) scale(2.708 2.031)"><circle r="11"/><text>BP</text></g>
</g>
<use href="#E5" class="ar a1"/>
</g>

<!-- Panel 6: tabu iss=10 -->
<g transform="translate(1152 768) scale(0.36923 0.49231)">
<use href="#E6" class="ln"/>
<g class="n f115">
<g transform="translate(487 195) scale(2.708 2.031)"><circle r="16.5"/><text>ERLO</text></g>
<g transform="translate(800 195) scale(2.708 2.031)"><circle r="16.5"/><text>HR</text></g>
<g transform="translate(973 195) scale(2.708 2.031)"><circle r="16.5"/><text>ERCA</text></g>
<g transform="translate(487 318) scale(2.708 2.031)"><circle r="16.5"/><text>HRBP</text></g>
<g transform="translate(615 318) scale(2.708 2.031)"><circle r="16.5"/><text>CCHL</text></g>
<g transform="translate(897 318) scale(2.708 2.031)"><circle r="16.5"/><text>HRSA</text></g>
<g transform="translate(1025 318) scale(2.708 2.031)"><circle r="16.5"/><text>HREK</text></g>
<g transform="translate(362 440) scale(2.708 2.031)"><circle r="16.5"/><text>MINV</text></g>
<g transform="translate(567 440) scale(2.708 2.031)"><circle r="16.5"/><text>ANES</text></g>
<g transform="translate(313 563) scale(2.708 2.031)"><circle r="16.5"/><text>VALV</text></g>
<g transform="translate(525 563) scale(2.708 2.031)"><circle r="16.5"/><text>FIO2</text></g>
<g transform="translate(898 563) scale(2.708 2.031)"><circle r="16.5"/><text>PAP</text></g>
<g transform="translate(117 684) scale(2.708 2.031)"><circle r="16.5"/><text>ACO2</text></g>
<g transform="translate(390 684) scale(2.708 2.031)"><circle r="16.5"/><text>INT</text></g>
<g transform="translate(525 684) scale(2.708 2.031)"><circle r="16.5"/><text>PVS</text></g>
<g transform="translate(898 684) scale(2.708 2.031)"><circle r="16.5"/><text>PMB</text></g>
<g transform="translate(207 808) scale(2.708 2.031)"><circle r="16.5"/><text>VLNG</text></g>
<g transform="translate(497 808) scale(2.708 2.031)"><circle r="16.5"/><text>SHNT</text></g>
<g transform="translate(1225 808) scale(2.708 2.031)"><circle r="16.5"/><text>LVF</text></g>
<g transform="translate(110 930) scale(2.708 2.031)"><circle r="16.5"/><text>ECO2</text></g>
<g transform="translate(370 930) scale(2.708 2.031)"><circle r="16.5"/><text>KINK</text></g>
<g transform="translate(566 930) scale(2.708 2.031)"><circle r="16.5"/><text>SAO2</text></g>
<g transform="translate(1225 930) scale(2.708 2.031)"><circle r="16.5"/><text>LVV</text></g>
<g transform="translate(272 1053) scale(2.708 2.031)"><circle r="16.5"/><text>VTUB</text></g>
<g transform="translate(620 1053) scale(2.708 2.031)"><circle r="16.5"/><text>TPR</text></g>
<g transform="translate(1032 1053) scale(2.708 2.031)"><circle r="16.5"/><text>STKV</text></g>
<g transform="translate(1158 1053) scale(2.708 2.031)"><circle r="16.5"/><text>CVP</text></g>
<g transform="translate(1288 1053) scale(2.708 2.031)"><circle r="16.5"/><text>PCWP</text></g>
<g transform="translate(272 1175) scale(2.708 2.031)"><circle r="16.5"/><text>DISC</text></g>
<g transform="translate(398 1175) scale(2.708 2.031)"><circle r="16.5"/><text>PRSS</text></g>
<g transform="translate(708 1175) scale(2.708 2.031)"><circle r="16.5"/><text>APL</text></g>
<g transform="translate(835 1175) scale(2.708 2.031)"><circle r="16.5"/><text>CO</text></g>
<g transform="translate(1386 1175) scale(2.708 2.031)"><circle r="16.5"/><text>HYP</text></g>
<g transform="translate(227 1300) scale(2.708 2.031)"><circle r="16.5"/><text>VMCH</text></g>
<g transform="translate(708 1300) scale(2.708 2.031)"><circle r="16.5"/><text>BP</text></g>
<g transform="translate(933 1300) scale(2.708 2.031)"><circle r="16.5"/><text>HIST</text></g>
<g transform="translate(227 1422) scale(2.708 2.031)"><circle r="16.5"/><text>MVS</text></g>
</g>
<use href="#E6" class="ar a3"/>
</g>

<!-- Panel 7: hc iss=20 -->
<g transform="translate(1728 0) scale(0.36923 0.49231)">
<use href="#E7" class="ln"/>
<g class="n f65">
<g transform="translate(1170 180) scale(2.708 2.031)"><circle r="11"/><text>HRBP</text></g>
<g transform="translate(1118 253) scale(2.708 2.031)"><circle r="11"/><text>ERLO</text></g>
<g transform="translate(1222 327) scale(2.708 2.031)"><circle r="11"/><text>HR</text></g>
<g transform="translate(1405 327) scale(2.708 2.031)"><circle r="11"/><text>ERCA</text></g>
<g transform="translate(962 402) scale(2.708 2.031)"><circle r="11"/><text>CCHL</text></g>
<g transform="translate(1323 402) scale(2.708 2.031)"><circle r="11"/><text>HREK</text></g>
<g transform="translate(1457 402) scale(2.708 2.031)"><circle r="11"/><text>HRSA</text></g>
<g transform="translate(828 476) scale(2.708 2.031)"><circle r="11"/><text>ANES</text></g>
<g transform="translate(962 476) scale(2.708 2.031)"><circle r="11"/><text>MINV</text></g>
<g transform="translate(305 549) scale(2.708 2.031)"><circle r="11"/><text>PAP</text></g>
<g transform="translate(438 549) scale(2.708 2.031)"><circle r="11"/><text>FIO2</text></g>
<g transform="translate(915 549) scale(2.708 2.031)"><circle r="11"/><text>VALV</text></g>
<g transform="translate(323 623) scale(2.708 2.031)"><circle r="11"/><text>PMB</text></g>
<g transform="translate(640 623) scale(2.708 2.031)"><circle r="11"/><text>PVS</text></g>
<g transform="translate(846 623) scale(2.708 2.031)"><circle r="11"/><text>INT</text></g>
<g transform="translate(1118 623) scale(2.708 2.031)"><circle r="11"/><text>ACO2</text></g>
<g transform="translate(743 697) scale(2.708 2.031)"><circle r="11"/><text>SHNT</text></g>
<g transform="translate(1018 697) scale(2.708 2.031)"><circle r="11"/><text>VLNG</text></g>
<g transform="translate(608 772) scale(2.708 2.031)"><circle r="11"/><text>SAO2</text></g>
<g transform="translate(742 772) scale(2.708 2.031)"><circle r="11"/><text>KINK</text></g>
<g transform="translate(1110 772) scale(2.708 2.031)"><circle r="11"/><text>ECO2</text></g>
<g transform="translate(463 846) scale(2.708 2.031)"><circle r="11"/><text>TPR</text></g>
<g transform="translate(742 846) scale(2.708 2.031)"><circle r="11"/><text>VTUB</text></g>
<g transform="translate(436 919) scale(2.708 2.031)"><circle r="11"/><text>APL</text></g>
<g transform="translate(640 919) scale(2.708 2.031)"><circle r="11"/><text>DISC</text></g>
<g transform="translate(848 919) scale(2.708 2.031)"><circle r="11"/><text>PRSS</text></g>
<g transform="translate(329 993) scale(2.708 2.031)"><circle r="11"/><text>HIST</text></g>
<g transform="translate(712 993) scale(2.708 2.031)"><circle r="11"/><text>VMCH</text></g>
<g transform="translate(329 1067) scale(2.708 2.031)"><circle r="11"/><text>LVF</text></g>
<g transform="translate(675 1067) scale(2.708 2.031)"><circle r="11"/><text>MVS</text></g>
<g transform="translate(240 1140) scale(2.708 2.031)"><circle r="11"/><text>PCWP</text></g>
<g transform="translate(238 1215) scale(2.708 2.031)"><circle r="11"/><text>LVV</text></g>
<g transform="translate(302 1289) scale(2.708 2.031)"><circle r="11"/><text>CVP</text></g>
<g transform="translate(435 1289) scale(2.708 2.031)"><circle r="11"/><text>STKV</text></g>
<g transform="translate(203 1362) scale(2.708 2.031)"><circle r="11"/><text>HYP</text></g>
<g transform="translate(435 1362) scale(2.708 2.031)"><circle r="11"/><text>CO</text></g>
<g transform="translate(488 1436) scale(2.708 2.031)"><circle r="11"/><text>BP</text></g>
</g>
<use href="#E7" class="ar a1"/>
</g>

<!-- Panel 8: tabu iss=20 -->
<g transform="translate(1728 768) scale(0.36923 0.49231)">
<use href="#E8" class="ln"/>
<g class="n f8">
<g transform="translate(287 185) scale(2.708 2.031)"><circle r="12.5"/><text>ERLO</text></g>
<g transform="translate(620 185) scale(2.708 2.031)"><circle r="12.5"/><text>PAP</text></g>
<g transform="translate(620 272) scale(2.708 2.031)"><circle r="12.5"/><text>PMB</text></g>
<g transform="translate(1333 272) scale(2.708 2.031)"><circle r="12.5"/><text>VLNG</text></g>
<g transform="translate(905 363) scale(2.708 2.031)"><circle r="12.5"/><text>KINK</text></g>
<g transform="translate(427 452) scale(2.708 2.031)"><circle r="12.5"/><text>LVF</text></g>
<g transform="translate(1138 452) scale(2.708 2.031)"><circle r="12.5"/><text>INT</text></g>
<g transform="translate(427 540) scale(2.708 2.031)"><circle r="12.5"/><text>PCWP</text></g>
<g transform="translate(930 540) scale(2.708 2.031)"><circle r="12.5"/><text>VTUB</text></g>
<g transform="translate(1150 540) scale(2.708 2.031)"><circle r="12.5"/><text>SHNT</text></g>
<g transform="translate(1258 540) scale(2.708 2.031)"><circle r="12.5"/><text>VALV</text></g>
<g transform="translate(1423 540) scale(2.708 2.031)"><circle r="12.5"/><text>MINV</text></g>
<g transform="translate(483 630) scale(2.708 2.031)"><circle r="12.5"/><text>LVV</text></g>
<g transform="translate(872 630) scale(2.708 2.031)"><circle r="12.5"/><text>DISC</text></g>
<g transform="translate(1038 630) scale(2.708 2.031)"><circle r="12.5"/><text>PRSS</text></g>
<g transform="translate(1328 630) scale(2.708 2.031)"><circle r="12.5"/><text>ACO2</text></g>
<g transform="translate(375 718) scale(2.708 2.031)"><circle r="12.5"/><text>HYP</text></g>
<g transform="translate(483 718) scale(2.708 2.031)"><circle r="12.5"/><text>CVP</text></g>
<g transform="translate(872 718) scale(2.708 2.031)"><circle r="12.5"/><text>VMCH</text></g>
<g transform="translate(1372 718) scale(2.708 2.031)"><circle r="12.5"/><text>ECO2</text></g>
<g transform="translate(720 807) scale(2.708 2.031)"><circle r="12.5"/><text>APL</text></g>
<g transform="translate(312 897) scale(2.708 2.031)"><circle r="12.5"/><text>HIST</text></g>
<g transform="translate(708 897) scale(2.708 2.031)"><circle r="12.5"/><text>FIO2</text></g>
<g transform="translate(872 897) scale(2.708 2.031)"><circle r="12.5"/><text>MVS</text></g>
<g transform="translate(273 985) scale(2.708 2.031)"><circle r="12.5"/><text>STKV</text></g>
<g transform="translate(788 985) scale(2.708 2.031)"><circle r="12.5"/><text>PVS</text></g>
<g transform="translate(165 1075) scale(2.708 2.031)"><circle r="12.5"/><text>TPR</text></g>
<g transform="translate(788 1075) scale(2.708 2.031)"><circle r="12.5"/><text>SAO2</text></g>
<g transform="translate(452 1163) scale(2.708 2.031)"><circle r="12.5"/><text>CCHL</text></g>
<g transform="translate(342 1253) scale(2.708 2.031)"><circle r="12.5"/><text>ANES</text></g>
<g transform="translate(452 1253) scale(2.708 2.031)"><circle r="12.5"/><text>HR</text></g>
<g transform="translate(557 1253) scale(2.708 2.031)"><circle r="12.5"/><text>ERCA</text></g>
<g transform="translate(120 1342) scale(2.708 2.031)"><circle r="12.5"/><text>HRBP</text></g>
<g transform="translate(262 1342) scale(2.708 2.031)"><circle r="12.5"/><text>CO</text></g>
<g transform="translate(452 1342) scale(2.708 2.031)"><circle r="12.5"/><text>HRSA</text></g>
<g transform="translate(557 1342) scale(2.708 2.031)"><circle r="12.5"/><text>HREK</text></g>
<g transform="translate(130 1432) scale(2.708 2.031)"><circle r="12.5"/><text>BP</text></g>
</g>
<use href="#E8" class="ar a4"/>
</g>

<!-- Panel 9: hc iss=50 -->
<g transform="translate(2304 0) scale(0.36923 0.49231)">
<use href="#E9" class="ln"/>
<g class="n f45">
<g transform="translate(1425 175) scale(2.708 2.031)"><circle r="9.5"/><text>HRBP</text></g>
<g transform="translate(640 238) scale(2.708 2.031)"><circle r="9.5"/><text>PAP</text></g>
<g transform="translate(1010 238) scale(2.708 2.031)"><circle r="9.5"/><text>FIO2</text></g>
<g transform="translate(1460 238) scale(2.708 2.031)"><circle r="9.5"/><text>ERLO</text></g>
<g transform="translate(640 300) scale(2.708 2.031)"><circle r="9.5"/><text>PMB</text></g>
<g transform="translate(1395 365) scale(2.708 2.031)"><circle r="9.5"/><text>HR</text></g>
<g transform="translate(1118 430) scale(2.708 2.031)"><circle r="9.5"/><text>CCHL</text></g>
<g transform="translate(912 493) scale(2.708 2.031)"><circle r="9.5"/><text>MINV</text></g>
<g transform="translate(816 555) scale(2.708 2.031)"><circle r="9.5"/><text>INT</text></g>
<g transform="translate(945 620) scale(2.708 2.031)"><circle r="9.5"/><text>VALV</text></g>
<g transform="translate(1075 620) scale(2.708 2.031)"><circle r="9.5"/><text>SHNT</text></g>
<g transform="translate(880 683) scale(2.708 2.031)"><circle r="9.5"/><text>VLNG</text></g>
<g transform="translate(615 745) scale(2.708 2.031)"><circle r="9.5"/><text>KINK</text></g>
<g transform="translate(477 808) scale(2.708 2.031)"><circle r="9.5"/><text>ANES</text></g>
<g transform="translate(780 808) scale(2.708 2.031)"><circle r="9.5"/><text>VTUB</text></g>
<g transform="translate(955 808) scale(2.708 2.031)"><circle r="9.5"/><text>PVS</text></g>
<g transform="translate(693 872) scale(2.708 2.031)"><circle r="9.5"/><text>PRSS</text></g>
<g transform="translate(922 872) scale(2.708 2.031)"><circle r="9.5"/><text>SAO2</text></g>
<g transform="translate(922 933) scale(2.708 2.031)"><circle r="9.5"/><text>TPR</text></g>
<g transform="translate(845 995) scale(2.708 2.031)"><circle r="9.5"/><text>APL</text></g>
<g transform="translate(410 1060) scale(2.708 2.031)"><circle r="9.5"/><text>HIST</text></g>
<g transform="translate(538 1060) scale(2.708 2.031)"><circle r="9.5"/><text>DISC</text></g>
<g transform="translate(1198 1060) scale(2.708 2.031)"><circle r="9.5"/><text>ACO2</text></g>
<g transform="translate(1280 1060) scale(2.708 2.031)"><circle r="9.5"/><text>ERCA</text></g>
<g transform="translate(280 1122) scale(2.708 2.031)"><circle r="9.5"/><text>LVF</text></g>
<g transform="translate(592 1122) scale(2.708 2.031)"><circle r="9.5"/><text>VMCH</text></g>
<g transform="translate(1155 1122) scale(2.708 2.031)"><circle r="9.5"/><text>ECO2</text></g>
<g transform="translate(1280 1122) scale(2.708 2.031)"><circle r="9.5"/><text>HREK</text></g>
<g transform="translate(1415 1122) scale(2.708 2.031)"><circle r="9.5"/><text>HRSA</text></g>
<g transform="translate(260 1185) scale(2.708 2.031)"><circle r="9.5"/><text>PCWP</text></g>
<g transform="translate(533 1185) scale(2.708 2.031)"><circle r="9.5"/><text>MVS</text></g>
<g transform="translate(257 1248) scale(2.708 2.031)"><circle r="9.5"/><text>LVV</text></g>
<g transform="translate(148 1310) scale(2.708 2.031)"><circle r="9.5"/><text>CVP</text></g>
<g transform="translate(385 1310) scale(2.708 2.031)"><circle r="9.5"/><text>STKV</text></g>
<g transform="translate(322 1375) scale(2.708 2.031)"><circle r="9.5"/><text>HYP</text></g>
<g transform="translate(890 1375) scale(2.708 2.031)"><circle r="9.5"/><text>CO</text></g>
<g transform="translate(955 1438) scale(2.708 2.031)"><circle r="9.5"/><text>BP</text></g>
</g>
<use href="#E9" class="ar a5"/>
</g>

<!-- Panel 10: tabu iss=50 -->
<g transform="translate(2304 768) scale(0.36923 0.49231)">
<use href="#E10" class="ln"/>
<g class="n f45">
<g transform="translate(213 180) scale(2.708 2.031)"><circle r="9.3"/><text>ERLO</text></g>
<g transform="translate(598 180) scale(2.708 2.031)"><circle r="9.3"/><text>FIO2</text></g>
<g transform="translate(710 180) scale(2.708 2.031)"><circle r="9.3"/><text>PAP</text></g>
<g transform="translate(710 262) scale(2.708 2.031)"><circle r="9.3"/><text>PMB</text></g>
<g transform="translate(427 348) scale(2.708 2.031)"><circle r="9.3"/><text>CCHL</text></g>
<g transform="translate(800 433) scale(2.708 2.031)"><circle r="9.3"/><text>MINV</text></g>
<g transform="translate(803 515) scale(2.708 2.031)"><circle r="9.3"/><text>INT</text></g>
<g transform="translate(615 598) scale(2.708 2.031)"><circle r="9.3"/><text>SHNT</text></g>
<g transform="translate(880 598) scale(2.708 2.031)"><circle r="9.3"/><text>VLNG</text></g>
<g transform="translate(615 683) scale(2.708 2.031)"><circle r="9.3"/><text>VALV</text></g>
<g transform="translate(880 683) scale(2.708 2.031)"><circle r="9.3"/><text>KINK</text></g>
<g transform="translate(575 765) scale(2.708 2.031)"><circle r="9.3"/><text>ANES</text></g>
<g transform="translate(688 765) scale(2.708 2.031)"><circle r="9.3"/><text>PVS</text></g>
<g transform="translate(990 765) scale(2.708 2.031)"><circle r="9.3"/><text>VTUB</text></g>
<g transform="translate(688 848) scale(2.708 2.031)"><circle r="9.3"/><text>SAO2</text></g>
<g transform="translate(880 848) scale(2.708 2.031)"><circle r="9.3"/><text>PRSS</text></g>
<g transform="translate(630 933) scale(2.708 2.031)"><circle r="9.3"/><text>TPR</text></g>
<g transform="translate(630 1017) scale(2.708 2.031)"><circle r="9.3"/><text>APL</text></g>
<g transform="translate(1405 1017) scale(2.708 2.031)"><circle r="9.3"/><text>LVV</text></g>
<g transform="translate(238 1098) scale(2.708 2.031)"><circle r="9.3"/><text>ERCA</text></g>
<g transform="translate(323 1098) scale(2.708 2.031)"><circle r="9.3"/><text>HR</text></g>
<g transform="translate(428 1098) scale(2.708 2.031)"><circle r="9.3"/><text>ACO2</text></g>
<g transform="translate(1070 1098) scale(2.708 2.031)"><circle r="9.3"/><text>DISC</text></g>
<g transform="translate(1293 1098) scale(2.708 2.031)"><circle r="9.3"/><text>LVF</text></g>
<g transform="translate(117 1182) scale(2.708 2.031)"><circle r="9.3"/><text>HRBP</text></g>
<g transform="translate(238 1182) scale(2.708 2.031)"><circle r="9.3"/><text>HRSA</text></g>
<g transform="translate(323 1182) scale(2.708 2.031)"><circle r="9.3"/><text>HREK</text></g>
<g transform="translate(483 1182) scale(2.708 2.031)"><circle r="9.3"/><text>ECO2</text></g>
<g transform="translate(952 1182) scale(2.708 2.031)"><circle r="9.3"/><text>VMCH</text></g>
<g transform="translate(1180 1182) scale(2.708 2.031)"><circle r="9.3"/><text>HIST</text></g>
<g transform="translate(1252 1182) scale(2.708 2.031)"><circle r="9.3"/><text>CVP</text></g>
<g transform="translate(1410 1182) scale(2.708 2.031)"><circle r="9.3"/><text>PCWP</text></g>
<g transform="translate(925 1265) scale(2.708 2.031)"><circle r="9.3"/><text>MVS</text></g>
<g transform="translate(1293 1265) scale(2.708 2.031)"><circle r="9.3"/><text>STKV</text></g>
<g transform="translate(650 1350) scale(2.708 2.031)"><circle r="9.3"/><text>CO</text></g>
<g transform="translate(1352 1350) scale(2.708 2.031)"><circle r="9.3"/><text>HYP</text></g>
<g transform="translate(652 1432) scale(2.708 2.031)"><circle r="9.3"/><text>BP</text></g>
</g>
<use href="#E10" class="ar a5"/>
</g>
</svg>
</body></html>
